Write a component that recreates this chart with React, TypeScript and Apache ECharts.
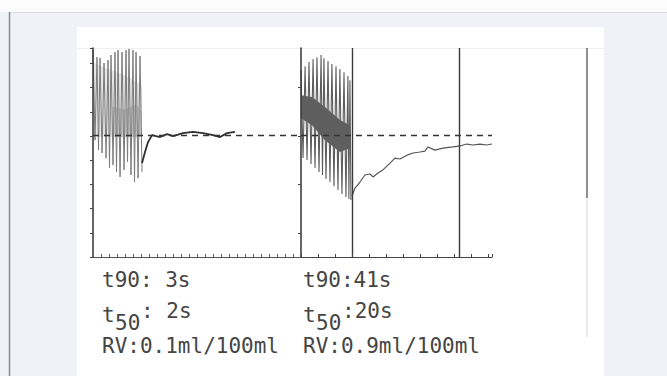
import React, { useEffect, useRef } from "react";
import * as echarts from "echarts";

// ---------- Panel 1 (left recording) ----------
// x: chart-1 time ticks, y: chart ticks (baseline at BASELINE)
const p1StrokeX = [0, 0.5, 0.88, 1.38, 1.88, 2.25, 2.75, 3.13, 3.63, 4.13, 4.5, 5, 5.38, 5.88];
const p1StrokeTop = [8.55, 8.26, 8.22, 8.02, 8.14, 8.35, 8.47, 8.55, 8.47, 8.55, 8.6, 8.55, 8.47, 8.31];
const p1StrokeBottom = [4.83, 4.42, 4.3, 4.09, 3.68, 3.8, 3.51, 3.31, 3.6, 3.93, 3.39, 3.1, 3.26, 3.51];
const p1RecX = [6.13, 6.5, 6.88, 7.38, 7.88, 8.38, 9.25, 10, 11.25, 12.5, 13.75, 15, 15.88, 16.75, 17.75];
const p1RecY = [3.88, 4.34, 4.75, 5.04, 5.0, 4.96, 5.08, 5.0, 5.12, 5.17, 5.12, 5.04, 4.96, 5.12, 5.17];
const p1BandX = [0, 1.5, 3.13, 4.63, 6.13];
const p1BandTop = [8.06, 7.81, 7.64, 7.4, 7.11];
const p1BandBottom = [4.96, 4.96, 4.96, 4.96, 4.96];
const p1CoreX = [2.4, 4.0, 5.4, 6.1];
const p1CoreTop = [6.2, 6.1, 6.3, 6.0];
const p1CoreBottom = [4.95, 4.95, 4.95, 4.95];

// ---------- Panel 2 (right recording) ----------
const p2StrokeX = [0, 0.24, 0.47, 0.71, 0.94, 1.18, 1.35, 1.59, 1.82, 2.06, 2.29, 2.53, 2.76, 2.88];
const p2StrokeTop = [7.73, 7.89, 8.06, 8.18, 8.26, 8.35, 8.22, 8.1, 7.98, 7.89, 7.77, 7.64, 7.48, 7.31];
const p2StrokeBottom = [4.09, 4.01, 3.84, 3.68, 3.51, 3.39, 3.22, 3.1, 2.93, 2.77, 2.6, 2.48, 2.4, 2.36];
const p2RecX = [3.0, 3.18, 3.47, 3.76, 4.06, 4.24, 4.53, 4.82, 5.24, 5.53, 5.82, 6.24, 6.59, 7.0, 7.29, 7.47, 7.88, 8.35, 8.94, 9.35, 9.76, 10.12, 10.53, 10.94, 11.24];
const p2RecY = [2.52, 2.85, 3.1, 3.39, 3.43, 3.31, 3.47, 3.6, 3.88, 4.09, 4.05, 4.21, 4.3, 4.34, 4.38, 4.55, 4.42, 4.5, 4.55, 4.59, 4.67, 4.63, 4.67, 4.63, 4.67];
const p2ClusterX = [0, 0.65, 1.41, 2.29, 2.88];
const p2ClusterTop = [6.69, 6.61, 6.2, 5.66, 5.45];
const p2ClusterBottom = [5.74, 5.45, 4.83, 4.34, 4.5];
const p2Markers = [3.0, 9.29];

const BASELINE = 5.05;
const Y_MAX = 8.64;
const X1_MAX = 26;
const X2_MAX = 11.24;

const labelsLeft = { t90: "t90: 3s", t: "t", sub: "50", t50v: ": 2s", rv: "RV:0.1ml/100ml" };
const labelsRight = { t90: "t90:41s", t: "t", sub: "50", t50v: ":20s", rv: "RV:0.9ml/100ml" };

function zigzag(xs: number[], tops: number[], bottoms: number[]) {
  const d: number[][] = [];
  xs.forEach((x, i) => {
    const next = i < xs.length - 1 ? xs[i + 1] : x + (x - xs[i - 1]);
    d.push([x, tops[i]]);
    d.push([(x + next) / 2, bottoms[i]]);
  });
  return d;
}

function polygonSeries(xs: number[], tops: number[], bottoms: number[], idx: number, fill: string, opacity: number) {
  return {
    type: "custom",
    xAxisIndex: idx,
    yAxisIndex: idx,
    silent: true,
    z: 1,
    data: [[xs[0], tops[0]]],
    renderItem: (_p: any, api: any) => {
      const pts: number[][] = [];
      xs.forEach((x, i) => pts.push(api.coord([x, tops[i]])));
      for (let i = xs.length - 1; i >= 0; i--) pts.push(api.coord([xs[i], bottoms[i]]));
      return { type: "polygon", shape: { points: pts }, style: { fill, opacity } };
    },
  };
}

const FONT = '21px "DejaVu Sans Mono", monospace';
const TXT = "#454545";

function txt(text: string, x: number, y: number) {
  return { type: "text", x, y, z: 10, style: { text, font: FONT, fill: TXT, verticalAlign: "middle", align: "left" } };
}

export default function App() {
  const ref = useRef<HTMLDivElement>(null);
  useEffect(() => {
    if (!ref.current) return;
    const chart = echarts.init(ref.current, undefined, { renderer: "svg" });
    const axisCommon = { axisLabel: { show: false }, splitLine: { show: false }, z: 5 };
    const dash = { type: [6, 5], color: "#333", width: 1.3 };
    chart.setOption({
      animation: false,
      backgroundColor: "#f1f2f7",
      grid: [
        { left: 93, top: 48, width: 208, height: 209 },
        { left: 301, top: 48, width: 191, height: 209 },
      ],
      xAxis: [
        {
          type: "value", gridIndex: 0, min: 0, max: X1_MAX, interval: 1, ...axisCommon,
          axisLine: { lineStyle: { color: "#555", width: 1 } },
          axisTick: { inside: true, length: 3, lineStyle: { color: "#666" } },
        },
        {
          type: "value", gridIndex: 1, min: 0, max: X2_MAX, interval: 1, ...axisCommon,
          axisLine: { lineStyle: { color: "#444", width: 1.2 } },
          axisTick: { inside: true, length: 3, lineStyle: { color: "#444" } },
        },
      ],
      yAxis: [
        {
          type: "value", gridIndex: 0, min: 0, max: Y_MAX, interval: 1, ...axisCommon,
          axisLine: { lineStyle: { color: "#333", width: 1.5 } },
          axisTick: { length: 3, lineStyle: { color: "#444" } },
        },
        {
          type: "value", gridIndex: 1, min: 0, max: Y_MAX, interval: 2, offset: 3, ...axisCommon,
          axisLine: { lineStyle: { color: "#333", width: 1.5 } },
          axisTick: { show: false },
          minorTick: { show: true, splitNumber: 2, length: 3, lineStyle: { color: "#444" } },
          minorSplitLine: { show: false },
        },
      ],
      series: [
        polygonSeries(p1BandX, p1BandTop, p1BandBottom, 0, "#c8c8c8", 0.45),
        polygonSeries(p1CoreX, p1CoreTop, p1CoreBottom, 0, "#909090", 0.35),
        {
          type: "line", xAxisIndex: 0, yAxisIndex: 0, symbol: "none", silent: true, z: 2,
          data: zigzag(p1StrokeX, p1StrokeTop, p1StrokeBottom),
          lineStyle: { color: "#7c7c7c", width: 1 },
          markLine: {
            silent: true, symbol: "none", label: { show: false },
            lineStyle: dash, data: [{ yAxis: BASELINE }],
          },
        },
        {
          type: "line", xAxisIndex: 0, yAxisIndex: 0, symbol: "none", silent: true, z: 3,
          data: p1RecX.map((x, i) => [x, p1RecY[i]]),
          lineStyle: { color: "#2e2e2e", width: 1.8 },
        },
        polygonSeries(p2ClusterX, p2ClusterTop, p2ClusterBottom, 1, "#141414", 0.68),
        {
          type: "line", xAxisIndex: 1, yAxisIndex: 1, symbol: "none", silent: true, z: 2,
          data: zigzag(p2StrokeX, p2StrokeTop, p2StrokeBottom),
          lineStyle: { color: "#5e5e5e", width: 1.1 },
          markLine: {
            silent: true, symbol: "none", label: { show: false },
            data: [
              { yAxis: BASELINE, lineStyle: dash },
              ...p2Markers.map((m) => ({ xAxis: m, lineStyle: { type: "solid", color: "#3a3a3a", width: 1.4 } })),
            ],
          },
        },
        {
          type: "line", xAxisIndex: 1, yAxisIndex: 1, symbol: "none", silent: true, z: 3,
          data: p2RecX.map((x, i) => [x, p2RecY[i]]),
          lineStyle: { color: "#555", width: 1.2 },
        },
      ],
      graphic: [
        { type: "rect", z: -10, shape: { x: 0, y: 0, width: 667, height: 12 }, style: { fill: "#fcfcfc" } },
        { type: "line", z: -9, shape: { x1: 9, y1: 12.5, x2: 667, y2: 12.5 }, style: { stroke: "#dcdce2", lineWidth: 1 } },
        { type: "line", z: -9, shape: { x1: 9.5, y1: 12, x2: 9.5, y2: 376 }, style: { stroke: "#8c8c8c", lineWidth: 1.5 } },
        { type: "rect", z: -8, shape: { x: 77, y: 27, width: 527, height: 349 }, style: { fill: "#ffffff" } },
        { type: "line", z: -7, shape: { x1: 77, y1: 48.5, x2: 604, y2: 48.5 }, style: { stroke: "#efefef", lineWidth: 1 } },
        { type: "line", z: 4, shape: { x1: 587, y1: 48, x2: 587, y2: 198 }, style: { stroke: "#6a6a6a", lineWidth: 1.5 } },
        { type: "line", z: 4, shape: { x1: 587, y1: 198, x2: 587, y2: 337 }, style: { stroke: "#d6d6d6", lineWidth: 1 } },
        txt(labelsLeft.t90, 102, 280),
        txt(labelsLeft.t, 102, 315),
        txt(labelsLeft.sub, 115, 323),
        txt(labelsLeft.t50v, 141, 311),
        txt(labelsLeft.rv, 102, 346),
        txt(labelsRight.t90, 303, 280),
        txt(labelsRight.t, 303, 315),
        txt(labelsRight.sub, 316, 323),
        txt(labelsRight.t50v, 342, 311),
        txt(labelsRight.rv, 303, 346),
      ],
    });
    return () => chart.dispose();
  }, []);
  return <div ref={ref} style={{ position: "absolute", left: 0, top: 0, width: 667, height: 376 }} />;
}
